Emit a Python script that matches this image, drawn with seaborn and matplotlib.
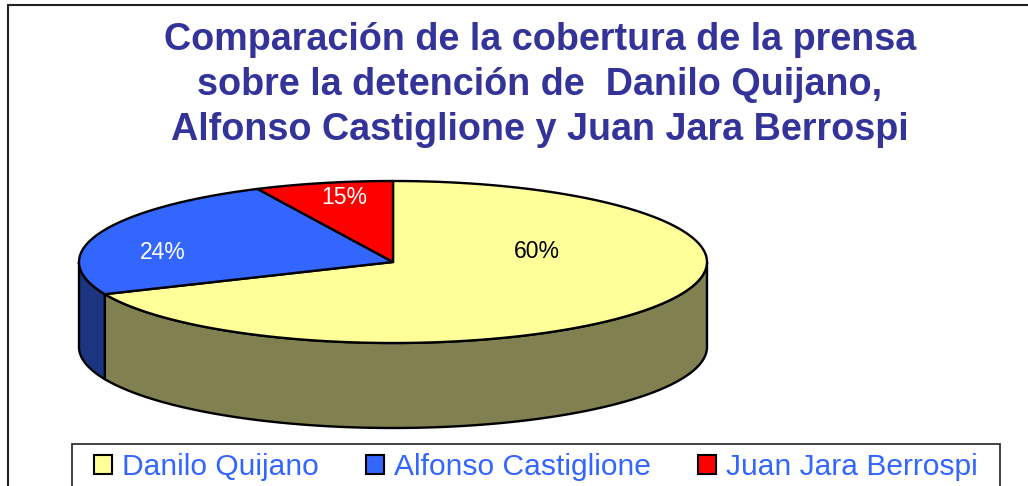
import numpy as np
import matplotlib
matplotlib.use("Agg")
import matplotlib.pyplot as plt
from matplotlib.patches import Polygon, Patch, Rectangle
from matplotlib.lines import Line2D
import seaborn as sns

# ---------------- data ----------------
categories = ["Danilo Quijano", "Alfonso Castiglione", "Juan Jara Berrospi"]
slice_shares = [68.5, 24.4, 7.1]          # slice sizes as drawn in the picture
label_texts = ["60%", "24%", "15%"]       # data labels printed on the chart
title_lines = [
    "Comparación de la cobertura de la prensa",
    "sobre la detención de  Danilo Quijano,",
    "Alfonso Castiglione y Juan Jara Berrospi",
]

# ---------------- style ----------------
top_colors = ["#FFFF99", "#3366FF", "#FF0000"]
side_colors = ["#808050", "#1C3580", "#800000"]
label_colors = ["black", "white", "white"]
LABEL_POS = [(0.459, 0.032), (-0.732, 0.030), (-0.156, 0.207)]  # in pie-radius units
TITLE_COLOR = "#333399"
LEGEND_TEXT_COLOR = "#3366FF"

sns.set_style("white")
plt.rcParams["font.family"] = ["Liberation Sans", "DejaVu Sans"]

W, H = 1028, 486
fig = plt.figure(figsize=(W / 100, H / 100), dpi=100)
ax = fig.add_axes([0, 0, 1, 1])
R_PX = 314.0
CX, CY = 393.0, 262.0
ax.set_xlim(-CX / R_PX, (W - CX) / R_PX)
ax.set_ylim(-(H - CY) / R_PX, CY / R_PX)
ax.set_aspect("equal")
ax.axis("off")

TILT = 81.0 / 314.0
DEPTH = 85.0 / 314.0
EDGE_LW = 1.7

shares = np.asarray(slice_shares, dtype=float)
fr = shares / shares.sum()
ends = 90.0 - 360.0 * np.cumsum(fr)
starts = np.r_[90.0, ends[:-1]]


def arc(t0, t1, n=200, dy=0.0):
    t = np.radians(np.linspace(t0, t1, n))
    return np.column_stack([np.cos(t), TILT * np.sin(t) + dy])


# side walls (front half only)
for i in range(len(shares)):
    a, b = ends[i], starts[i]
    for k in (-1, 0, 1):
        lo = max(a, -180 + 360 * k)
        hi = min(b, 360 * k)
        if hi - lo > 1e-6:
            top = arc(lo, hi)
            bot = arc(hi, lo, dy=-DEPTH)
            poly = Polygon(np.vstack([top, bot]), closed=True,
                           facecolor=side_colors[i], edgecolor="black",
                           linewidth=EDGE_LW, joinstyle="round", zorder=1)
            ax.add_patch(poly)

# top faces
for i in range(len(shares)):
    pts = np.vstack([[0, 0], arc(ends[i], starts[i])])
    ax.add_patch(Polygon(pts, closed=True, facecolor=top_colors[i],
                         edgecolor="black", linewidth=EDGE_LW,
                         joinstyle="round", zorder=2))

for i, txt in enumerate(label_texts):
    x, y = LABEL_POS[i]
    ax.text(x, y, txt, ha="center", va="center", fontsize=16.5,
            color=label_colors[i], zorder=5)

# title
for j, line in enumerate(title_lines):
    base_px = 50 + 45 * j
    fig.text(540 / W, 1 - base_px / H, line, ha="center", va="baseline",
             fontsize=27.2, fontweight="bold", color=TITLE_COLOR)

# chart border (cropped)
fig.add_artist(Line2D([8 / W, 8 / W], [0, 1 - 5 / H], transform=fig.transFigure,
                      color="#222222", linewidth=1.5))
fig.add_artist(Line2D([8 / W, 1], [1 - 5 / H, 1 - 5 / H], transform=fig.transFigure,
                      color="#222222", linewidth=1.5))

# legend frame
fig.add_artist(Rectangle((72 / W, -0.05), (1000 - 72) / W, (H - 444) / H + 0.05,
                         transform=fig.transFigure, facecolor="white",
                         edgecolor="#222222", linewidth=1.2))

handles = [Patch(facecolor=c, edgecolor="black", linewidth=1.5) for c in top_colors]
fs = 21.6
fs_px = fs * 100 / 72
leg = fig.legend(handles, categories, loc="center left",
                 bbox_to_anchor=(94 / W, 1 - 467 / H), ncol=3, frameon=False,
                 fontsize=fs, handlelength=18 / fs_px, handleheight=18 / fs_px,
                 handletextpad=10 / fs_px, columnspacing=47 / fs_px,
                 borderpad=0, borderaxespad=0)
for t in leg.get_texts():
    t.set_color(LEGEND_TEXT_COLOR)

fig.savefig("out.png", dpi=100)
